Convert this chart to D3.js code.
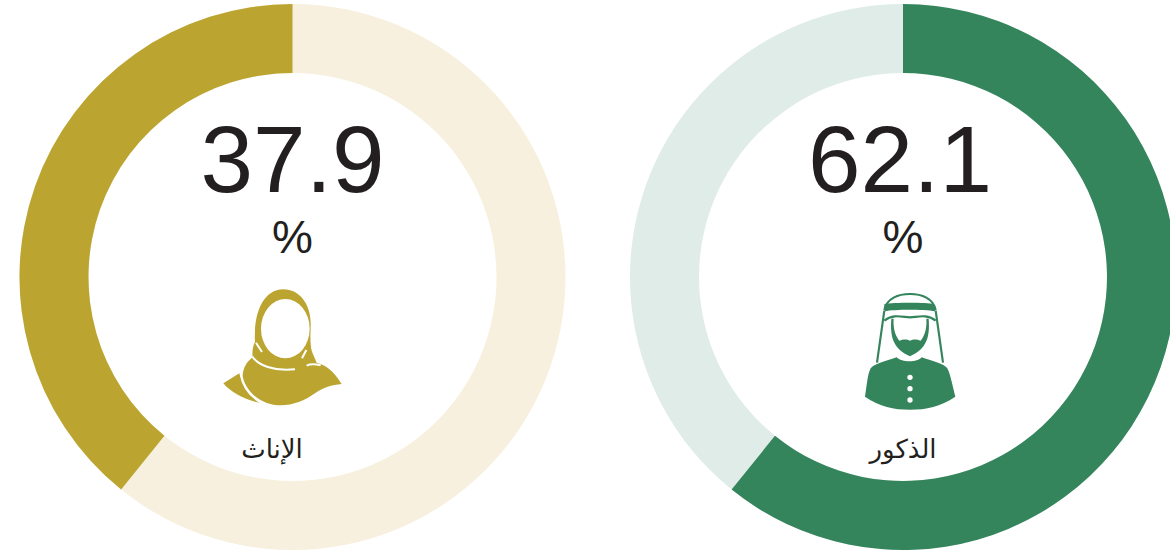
<!DOCTYPE html>
<html><head><meta charset="utf-8">
<script src="https://cdn.jsdelivr.net/npm/d3@7"></script>
<style>html,body{margin:0;background:#fff;overflow:hidden}svg{display:block}text{font-family:"Liberation Sans",Arial,sans-serif;fill:#231f20;text-anchor:middle}</style>
</head><body><svg id="c" width="1170" height="553"></svg>
<script>
const labels = ["الإناث", "الذكور"];
const shownValues = [37.9, 62.1];
const drawnShares = [39.2, 60.8];
const mainColors = ["#bba530", "#34845c"];
const trackColors = ["#f7f0de", "#dfece7"];
const directions = [-1, 1];
const centers = [292.5, 903];
const labelShift = [-20.5, 0];
const valueShift = [0, -3];

const femaleFill = [
  "M250 58C300 58 335 105 332 170C331 200 330 225 336 245L350 278C375 285 400 300 425 342C395 345 370 352 345 370C310 395 270 410 225 405C185 400 140 370 128 320C128 295 140 275 158 262C156 245 158 230 165 215C160 130 190 58 250 58Z",
  "M118 310L70 340C95 370 140 392 188 400C150 380 130 350 118 310Z"
];
const femaleCuts = ["M157 260C175 285 220 305 285 298", "M168 218L186 246", "M319 240L306 265", "M320 287C330 282 345 282 362 286", "M122 312C128 350 150 380 190 402"];
const maleFill = [
  "M105 350C110 320 112 285 122 265C135 250 165 245 200 232C215 248 262 248 275 232C310 245 340 250 352 265C362 285 368 320 376 350C330 380 290 389 240 389C190 389 150 380 105 350Z",
  "M163 72C190 67 290 67 312 72L316 94C280 88 195 88 164 94Z",
  "M184 116L191 116C189 140 194 165 208 182C222 176 232 178 240 182C248 178 258 176 272 182C286 165 291 140 289 116L296 116C300 170 292 205 240 229C188 205 180 170 184 116Z"
];
const maleLines = ["M163 90C170 55 205 42 240 42C275 42 310 55 317 90", "M163 92L141 248", "M317 92L339 248", "M163 122C190 100 220 112 240 112C260 112 290 100 317 122"];
const buttonY = [292, 326, 360];
const iconPlace = [[200, 270, femaleFill], [830, 280, maleFill]];

const svg = d3.select("#c");
const scale = d3.scaleLinear().domain([0, 100]).range([0, 2 * Math.PI]);
const arc = d3.arc().innerRadius(204).outerRadius(273);

shownValues.forEach((v, i) => {
  const g = svg.append("g").attr("transform", `translate(${centers[i]},277)`);
  g.append("path").attr("fill", trackColors[i])
    .attr("d", arc({startAngle: 0, endAngle: 2 * Math.PI}));
  g.append("path").attr("fill", mainColors[i])
    .attr("d", arc({startAngle: 0, endAngle: directions[i] * scale(drawnShares[i])}));
  g.append("text").attr("x", valueShift[i]).attr("y", -85).attr("font-size", 94.5).text(v.toFixed(1));
  g.append("text").attr("y", -24).attr("font-size", 46).text("%");
  g.append("text").attr("x", labelShift[i]).attr("y", 181).attr("font-size", 26)
    .style("font-family", "'Noto Sans','DejaVu Sans',sans-serif").text(labels[i]);

  const [ix, iy, paths] = iconPlace[i];
  const ic = svg.append("g").attr("transform", `translate(${ix},${iy}) scale(${1/3})`);
  ic.selectAll("path.f").data(paths).join("path").attr("class", "f").attr("d", d => d).attr("fill", mainColors[i]);
  if (i === 0) {
    ic.append("ellipse").attr("cx", 256).attr("cy", 176).attr("rx", 73).attr("ry", 89).attr("fill", "#fff");
    ic.selectAll("path.c").data(femaleCuts).join("path").attr("class", "c").attr("d", d => d)
      .attr("fill", "none").attr("stroke", "#fff").attr("stroke-width", 6);
  } else {
    ic.selectAll("path.l").data(maleLines).join("path").attr("class", "l").attr("d", d => d)
      .attr("fill", "none").attr("stroke", mainColors[i]).attr("stroke-width", 6.5);
    ic.selectAll("circle").data(buttonY).join("circle").attr("cx", 240).attr("cy", d => d).attr("r", 8).attr("fill", "#fff");
  }
});
</script></body></html>
